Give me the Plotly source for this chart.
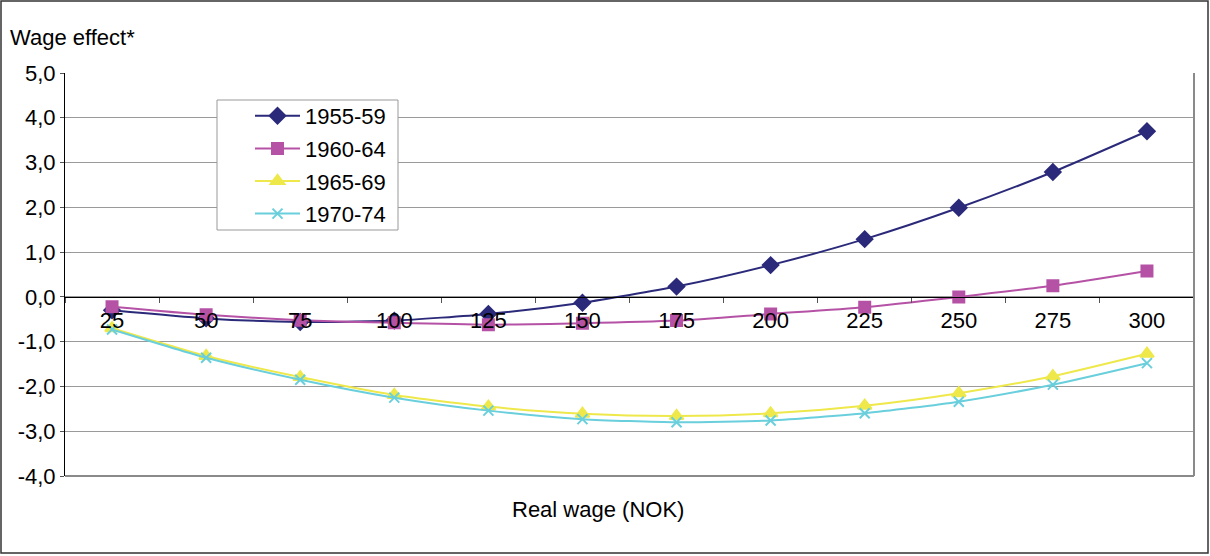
import plotly.graph_objects as go

# Real wage categories (NOK)
wages = ["25", "50", "75", "100", "125", "150", "175", "200", "225", "250", "275", "300"]

# Estimated wage effect by cohort
cohort_1955_59 = [-0.30, -0.48, -0.56, -0.53, -0.38, -0.13, 0.23, 0.71, 1.29, 1.99, 2.79, 3.70]
cohort_1960_64 = [-0.22, -0.40, -0.52, -0.58, -0.62, -0.59, -0.53, -0.38, -0.23, 0.00, 0.25, 0.58]
cohort_1965_69 = [-0.70, -1.32, -1.79, -2.19, -2.45, -2.61, -2.66, -2.60, -2.43, -2.15, -1.77, -1.27]
cohort_1970_74 = [-0.73, -1.36, -1.85, -2.25, -2.54, -2.73, -2.80, -2.76, -2.60, -2.34, -1.96, -1.48]

# Y-axis ticks, written with a decimal comma
y_ticks = [5, 4, 3, 2, 1, 0, -1, -2, -3, -4]
y_tick_labels = ["5,0", "4,0", "3,0", "2,0", "1,0", "0,0", "-1,0", "-2,0", "-3,0", "-4,0"]

series = [
    ("1955-59", cohort_1955_59, "#2B2A7A", "diamond", 12),
    ("1960-64", cohort_1960_64, "#B552A5", "square", 11),
    ("1965-69", cohort_1965_69, "#EEE84A", "triangle-up", 12),
    ("1970-74", cohort_1970_74, "#6ACFDC", "x-thin", 10),
]

FONT = "Liberation Sans, Arial, sans-serif"
FS = 22

fig = go.Figure()
for i, (name, vals, color, symbol, size) in enumerate(series):
    fig.add_trace(go.Scatter(
        x=wages, y=vals, name=name, mode="lines+markers",
        line=dict(color=color, width=2, shape="spline", smoothing=0.6),
        marker=dict(symbol=symbol, size=size, color=color,
                    line=dict(color=color, width=2)),
        legendgroup=str(i),
    ))

W, H = 1210, 556
L, R, T, B = 65, 16, 73, 80
PW, PH = W - L - R, H - T - B
zero_pos = 4.0 / 9.0


def px_x(px):
    return (px - L) / PW


def px_y(py):
    return (H - B - py) / PH


fig.update_layout(
    width=W, height=H,
    margin=dict(l=L, r=R, t=T, b=B),
    paper_bgcolor="white", plot_bgcolor="white",
    font=dict(family=FONT, size=FS, color="black"),
    showlegend=True,
    legend=dict(
        x=px_x(250), y=px_y(95),
        xanchor="left", yanchor="top",
        borderwidth=0, bgcolor="rgba(0,0,0,0)",
        font=dict(family=FONT, size=FS),
        tracegroupgap=1,
        itemwidth=45,
    ),
    xaxis=dict(
        type="category",
        anchor="free", position=zero_pos,
        showline=True, linecolor="black", linewidth=1,
        ticks="outside", ticklen=5, tickcolor="#555555", tickson="boundaries",
        ticklabelstandoff=4,
        showgrid=False, zeroline=False,
        tickfont=dict(family=FONT, size=FS),
        range=[-0.5, 11.5],
    ),
    yaxis=dict(
        range=[-4, 5], tickvals=y_ticks, ticktext=y_tick_labels,
        showline=True, linecolor="black", linewidth=1,
        ticks="outside", ticklen=4, tickcolor="#555555",
        showgrid=True, gridcolor="#9a9a9a", gridwidth=1,
        zeroline=False,
        tickfont=dict(family=FONT, size=FS),
    ),
    shapes=[
        # right and bottom edges of the plotting area
        dict(type="line", xref="x domain", yref="y domain", x0=1, x1=1, y0=0, y1=1,
             line=dict(color="#8a8a8a", width=2)),
        dict(type="line", xref="x domain", yref="y domain", x0=0, x1=1, y0=0, y1=0,
             line=dict(color="#8a8a8a", width=2)),
        # legend box
        dict(type="rect", xref="paper", yref="paper",
             x0=px_x(217), x1=px_x(398), y0=px_y(230), y1=px_y(100),
             line=dict(color="#999999", width=1), fillcolor="white", layer="above"),
        # frame around the whole chart
        dict(type="rect", xref="paper", yref="paper",
             x0=px_x(1), x1=px_x(1208), y0=px_y(553), y1=px_y(1),
             line=dict(color="#333333", width=1.5), layer="below"),
    ],
    annotations=[
        dict(text="Wage effect*", xref="paper", yref="paper",
             x=px_x(8), y=px_y(37),
             xanchor="left", yanchor="middle", showarrow=False,
             font=dict(family=FONT, size=FS)),
        dict(text="Real wage (NOK)", xref="paper", yref="paper",
             x=px_x(598), y=px_y(510),
             xanchor="center", yanchor="middle", showarrow=False,
             font=dict(family=FONT, size=FS)),
    ],
)

fig.write_html("out.html")
